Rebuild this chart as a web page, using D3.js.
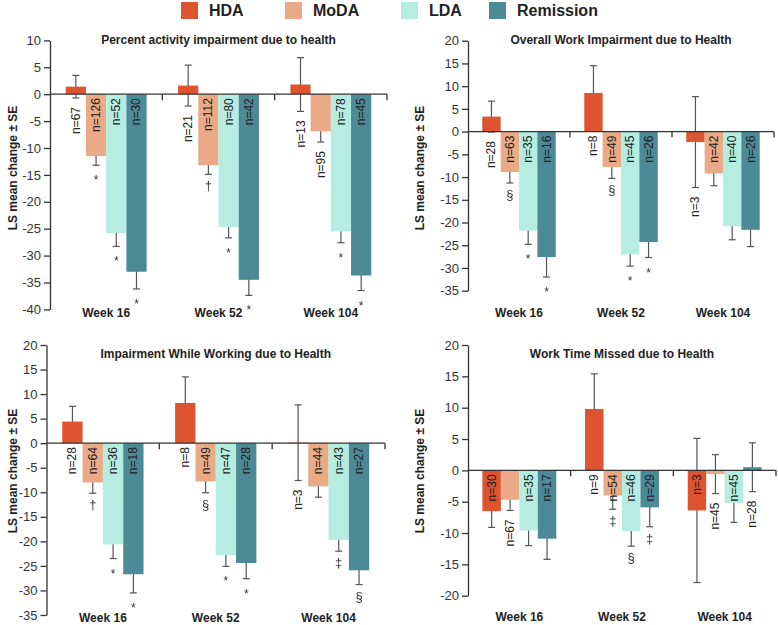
<!DOCTYPE html>
<html><head><meta charset="utf-8">
<script src="https://cdn.jsdelivr.net/npm/d3@7"></script>
<style>
body{margin:0;background:#fff}
svg{display:block;font-family:"Liberation Sans",Arial,Helvetica,sans-serif}
</style>
</head><body>
<svg id="c" width="778" height="625"></svg>
<script>
// ---------- data ----------
const weeks = ["Week 16", "Week 52", "Week 104"];
const categories = ["HDA", "MoDA", "LDA", "Remission"];
const colors = ["#DE5430", "#EAAA87", "#B5EEE1", "#4B8A96"];

// Panel 1: Percent activity impairment due to health
const actMean = [[1.4, -11.5, -25.8, -33.0], [1.6, -13.2, -24.7, -34.5], [1.8, -6.9, -25.5, -33.7]];
const actSE   = [[2.1, 1.7, 2.5, 3.2], [3.8, 1.7, 2.0, 2.9], [5.0, 2.0, 2.1, 2.8]];
const actN    = [[67, 126, 52, 30], [21, 112, 80, 42], [13, 95, 78, 45]];
const actSig  = [["", "*", "*", "*"], ["", "†", "*", "*"], ["", "", "*", "*"]];
const actOut  = [[0, 0, 0, 0], [0, 0, 0, 0], [0, 1, 0, 0]];
const actTicks = [10, 5, 0, -5, -10, -15, -20, -25, -30, -35, -40];

// Panel 2: Overall Work Impairment due to Health
const owMean = [[3.3, -8.9, -21.8, -27.6], [8.5, -7.8, -27.0, -24.3], [-2.3, -9.2, -20.8, -21.6]];
const owSE   = [[3.4, 2.4, 3.0, 4.4], [6.0, 2.5, 2.6, 3.4], [10.0, 2.7, 3.0, 3.7]];
const owN    = [[28, 63, 35, 16], [8, 49, 45, 26], [3, 42, 40, 26]];
const owSig  = [["", "§", "*", "*"], ["", "§", "*", "*"], ["", "", "", ""]];
const owOut  = [[0, 0, 0, 0], [0, 0, 0, 0], [1, 0, 0, 0]];
const owTicks = [20, 15, 10, 5, 0, -5, -10, -15, -20, -25, -30, -35];

// Panel 3: Impairment While Working due to Health
const iwMean = [[4.4, -8.0, -20.6, -26.7], [8.2, -7.8, -22.8, -24.4], [0.1, -8.8, -19.7, -25.9]];
const iwSE   = [[3.1, 2.2, 2.9, 3.8], [5.3, 2.3, 2.3, 3.2], [7.7, 2.2, 2.3, 2.9]];
const iwN    = [[28, 64, 36, 18], [8, 49, 47, 28], [3, 44, 43, 27]];
const iwSig  = [["", "†", "*", "*"], ["", "§", "*", "*"], ["", "", "‡", "§"]];
const iwOut  = [[0, 0, 0, 0], [0, 0, 0, 0], [1, 0, 0, 0]];
const iwTicks = [20, 15, 10, 5, 0, -5, -10, -15, -20, -25, -30, -35];

// Panel 4: Work Time Missed due to Health
const wtMean = [[-6.5, -4.7, -9.6, -10.9], [9.8, -4.0, -9.7, -5.9], [-6.4, -0.6, -5.2, 0.5]];
const wtSE   = [[2.6, 1.7, 2.4, 3.3], [5.6, 2.2, 2.4, 3.1], [11.5, 3.1, 3.1, 3.9]];
const wtN    = [[30, 67, 35, 17], [9, 54, 46, 29], [3, 45, 45, 28]];
const wtSig  = [["", "", "", ""], ["", "‡", "§", "‡"], ["", "", "", ""]];
const wtOut  = [[0, 1, 0, 0], [0, 0, 0, 0], [0, 1, 0, 1]];
const wtTicks = [20, 15, 10, 5, 0, -5, -10, -15, -20];

const yLabel = "LS mean change ± SE";

// ---------- layout ----------
const panels = [
  {title: "Percent activity impairment due to health", mean: actMean, se: actSE, n: actN, sig: actSig, out: actOut, ticks: actTicks,
   x0: 50, x1: 387, yTop: 40.4, yBot: 309.4, titleY: 44, weekY: 317, ylabX: 17, ylabY: 168},
  {title: "Overall Work Impairment due to Health", mean: owMean, se: owSE, n: owN, sig: owSig, out: owOut, ticks: owTicks,
   x0: 468, x1: 774, yTop: 40.7, yBot: 290.7, titleY: 44, weekY: 317, ylabX: 424, ylabY: 168},
  {title: "Impairment While Working due to Health", mean: iwMean, se: iwSE, n: iwN, sig: iwSig, out: iwOut, ticks: iwTicks,
   x0: 46.5, x1: 385, yTop: 345, yBot: 615, titleY: 358, weekY: 622, ylabX: 17, ylabY: 471},
  {title: "Work Time Missed due to Health", mean: wtMean, se: wtSE, n: wtN, sig: wtSig, out: wtOut, ticks: wtTicks,
   x0: 468, x1: 776, yTop: 345, yBot: 595.7, titleY: 358, weekY: 621, ylabX: 424, ylabY: 471}
];

const svg = d3.select("#c");
const AX = "#333";

// grayscale filter for thin glyphs
const defs = svg.append("defs");
defs.append("filter").attr("id", "gray").attr("x", "-50%").attr("y", "-50%").attr("width", "200%").attr("height", "200%")
  .append("feColorMatrix").attr("type", "saturate").attr("values", "0");

// legend
const legX = [181, 285, 401, 489];
const leg = svg.append("g");
categories.forEach((c, i) => {
  leg.append("rect").attr("x", legX[i]).attr("y", 2).attr("width", 17).attr("height", 17).attr("fill", colors[i]);
  leg.append("text").attr("x", legX[i] + 28).attr("y", 16).attr("font-size", 16).attr("font-weight", "bold")
     .attr("fill", "#222").text(c);
});

panels.forEach(p => {
  const g = svg.append("g");
  const dom = [d3.min(p.ticks), d3.max(p.ticks)];
  const y = d3.scaleLinear().domain(dom).range([p.yBot, p.yTop]);
  const xw = d3.scaleBand().domain(weeks).range([p.x0, p.x1]);
  const bw = xw.bandwidth();
  const xc = d3.scaleBand().domain(categories).range([0.14 * bw, 0.86 * bw]);
  const w = xc.bandwidth();

  const rows = [];
  weeks.forEach((wk, wi) => categories.forEach((c, ci) => {
    rows.push({wk, c, ci, m: p.mean[wi][ci], se: p.se[wi][ci], n: p.n[wi][ci], sig: p.sig[wi][ci], out: p.out[wi][ci],
               cx: xw(wk) + xc(c) + w / 2});
  }));

  // error bars (behind the bars)
  const eb = g.append("g").attr("stroke", "#555").attr("stroke-width", 1.2);
  rows.forEach(r => {
    eb.append("line").attr("x1", r.cx).attr("x2", r.cx).attr("y1", y(r.m + r.se)).attr("y2", y(r.m - r.se));
    [r.m + r.se, r.m - r.se].forEach(v => {
      eb.append("line").attr("x1", r.cx - 3.5).attr("x2", r.cx + 3.5).attr("y1", y(v)).attr("y2", y(v));
    });
  });

  // bars
  g.append("g").selectAll("rect").data(rows).join("rect")
    .attr("x", r => xw(r.wk) + xc(r.c))
    .attr("width", w)
    .attr("y", r => Math.min(y(r.m), y(0)))
    .attr("height", r => Math.abs(y(r.m) - y(0)))
    .attr("fill", r => colors[r.ci]);

  // y axis
  const ya = g.append("g").attr("transform", `translate(${p.x0},0)`)
    .call(d3.axisLeft(y).tickValues(p.ticks).tickSize(6).tickSizeOuter(0).tickPadding(3).tickFormat(d => String(d)));
  ya.select(".domain").attr("stroke", AX).attr("stroke-width", 1.3);
  ya.selectAll(".tick line").attr("stroke", AX).attr("stroke-width", 1.3);
  ya.selectAll(".tick text").attr("font-size", 13).attr("fill", "#333")
    .attr("font-family", "'Liberation Sans', Arial, sans-serif");

  // zero line with group ticks
  g.append("line").attr("x1", p.x0).attr("x2", p.x1).attr("y1", y(0)).attr("y2", y(0))
    .attr("stroke", AX).attr("stroke-width", 1.3);
  weeks.forEach(wk => {
    const xx = xw(wk) + bw;
    g.append("line").attr("x1", xx).attr("x2", xx).attr("y1", y(0)).attr("y2", y(0) + 6)
      .attr("stroke", AX).attr("stroke-width", 1.3);
  });

  // week labels
  weeks.forEach(wk => {
    g.append("text").attr("x", xw(wk) + bw / 2).attr("y", p.weekY).attr("text-anchor", "middle")
      .attr("font-size", 12).attr("font-weight", "bold").attr("fill", "#222").text(wk);
  });

  // n labels
  rows.forEach(r => {
    let top;
    const lo = r.m - r.se;
    if (r.m >= 0) {
      top = lo < 0 ? y(lo) + 9 : y(0) + 4;
    } else {
      top = r.out ? y(lo) + 9 : y(0) + 4;
    }
    g.append("text").attr("transform", `translate(${r.cx},${top}) rotate(-90)`)
      .attr("text-anchor", "end").attr("dominant-baseline", "central")
      .attr("font-size", 12).attr("fill", "#222").text("n=" + r.n);
  });

  // significance symbols
  const sg = g.append("g").attr("filter", "url(#gray)");
  rows.filter(r => r.sig).forEach(r => {
    const base = y(r.m - r.se);
    const star = r.sig === "*";
    sg.append("text").attr("x", r.cx).attr("y", base + (star ? 19 : 16)).attr("text-anchor", "middle")
      .attr("font-size", star ? 12 : 13).attr("fill", "#333").text(r.sig);
  });

  // title
  g.append("text").attr("x", (p.x0 + p.x1) / 2).attr("y", p.titleY).attr("text-anchor", "middle")
    .attr("font-size", 12).attr("font-weight", "bold").attr("fill", "#222").text(p.title);

  // y label
  g.append("text").attr("transform", `translate(${p.ylabX},${p.ylabY}) rotate(-90)`)
    .attr("text-anchor", "middle").attr("font-size", 12).attr("font-weight", "bold").attr("fill", "#222").text(yLabel);
});
</script>
</body></html>
